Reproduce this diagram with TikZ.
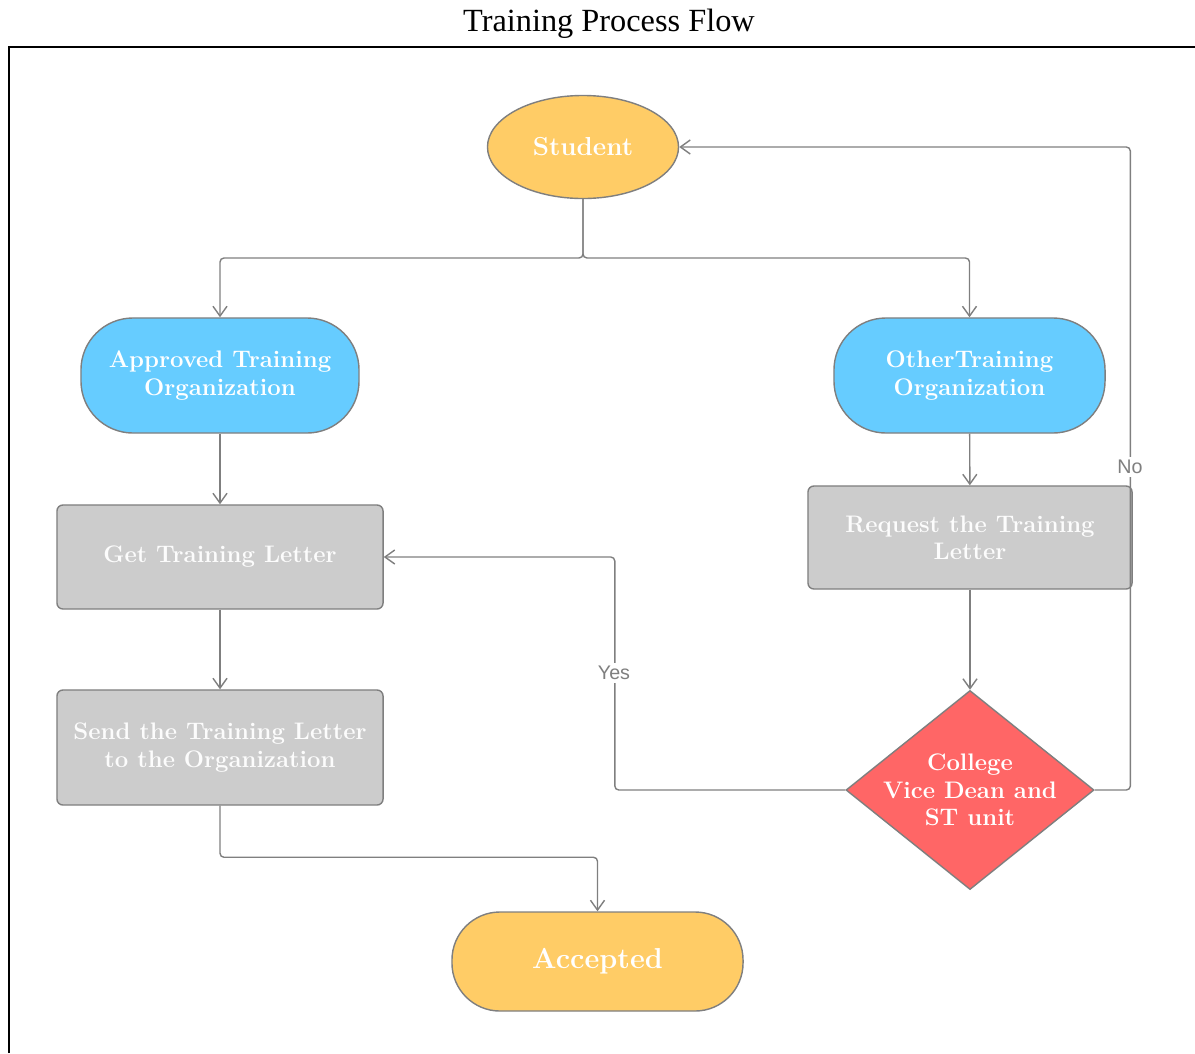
\documentclass[tikz,border=0pt]{standalone}
\usepackage{fontspec}
\newfontfamily\titlefont{Liberation Serif}
\newfontfamily\labelfont{Liberation Sans}
\usepackage{tikz}
\usetikzlibrary{arrows.meta,shapes.geometric}

\definecolor{linegray}{HTML}{7F7F7F}
\definecolor{startyellow}{HTML}{FFCC66}
\definecolor{orgblue}{HTML}{66CCFF}
\definecolor{stepgray}{HTML}{CCCCCC}
\definecolor{deanred}{HTML}{FF6666}

\tikzset{
  shape base/.style={draw=linegray, line width=1pt, text=white, align=center,
    font=\fontsize{17}{19.5}\selectfont\bfseries, inner sep=0pt},
  terminal/.style={shape base, ellipse, fill=startyellow},
  org/.style={shape base, rectangle, rounded corners=1.3cm, fill=orgblue},
  stepbox/.style={shape base, rectangle, rounded corners=0.15cm, fill=stepgray, text=white!95!stepgray},
  decision/.style={shape base, diamond, fill=deanred},
  deantext/.style={text=white, align=center, font=\fontsize{17}{19.5}\selectfont\bfseries},
  pill/.style={shape base, rectangle, rounded corners=1.2cm, fill=startyellow},
  flow/.style={draw=linegray, line width=1pt, rounded corners=0.1cm, -{Straight Barb[length=7pt,width=10pt]}},
  answer/.style={font=\labelfont\fontsize{14}{16}\selectfont, text=linegray, fill=white, inner sep=2pt}
}

\begin{document}
\begin{tikzpicture}[x=0.025cm, y=-0.025cm]
      \useasboundingbox (0,0) rectangle (1195,1053);
      % frame and title
      \draw [line width=1.2pt] (9,1053) -- (9,47) -- (1195,47);
      \node (title) at (609,24) {\titlefont\fontsize{23}{27}\selectfont Training Process Flow};
      % nodes
      \node (student) at (583,147) [terminal, minimum width=4.775cm, minimum height=2.575cm, font=\fontsize{18.5}{21}\selectfont\bfseries] {Student};
      \node (approved) at (220,375.5) [org, minimum width=6.95cm, minimum height=2.875cm] {Approved Training\\Organization};
      \node (other) at (969.5,375.5) [org, minimum width=6.775cm, minimum height=2.875cm] {OtherTraining\\Organization};
      \node (getletter) at (220,557) [stepbox, minimum width=8.15cm, minimum height=2.6cm] {Get Training Letter};
      \node (sendletter) at (220,747.5) [stepbox, minimum width=8.15cm, minimum height=2.875cm] {Send the Training Letter\\to the Organization};
      \node (request) at (970,537.5) [stepbox, minimum width=8.1cm, minimum height=2.575cm] {Request the Training\\Letter};
      \node (dean) at (970,790) [decision, minimum width=6.2cm, minimum height=4.975cm,
        label={[deantext]center:College\\Vice Dean and\\ST unit}] {};
      \node (accepted) at (597.5,961.5) [pill, minimum width=7.275cm, minimum height=2.475cm, font=\fontsize{20.5}{24}\selectfont\bfseries] {Accepted};
      % connectors
      \coordinate (split) at (583,258);
      \draw [flow] (student.south) -- (split) -| (approved.north);
      \draw [flow] (student.south) -- (split) -| (other.north);
      \draw [flow] (approved) -- (getletter);
      \draw [flow] (getletter) -- (sendletter);
      \draw [flow] (sendletter.south) |- ([yshift=1.35cm]accepted.north) -- (accepted.north);
      \draw [flow] (other) -- (request);
      \draw [flow] (request) -- (dean);
      \draw [flow] (dean.west) -| ([xshift=5.775cm]getletter.east) -- (getletter.east);
      \draw [flow] (dean.east) -| ([xshift=11.275cm]student.east) -- (student.east);
      \node (yes) at (614,673) [answer] {Yes};
      \node (no) at (1130,467) [answer] {No};
    \end{tikzpicture}
\end{document}
